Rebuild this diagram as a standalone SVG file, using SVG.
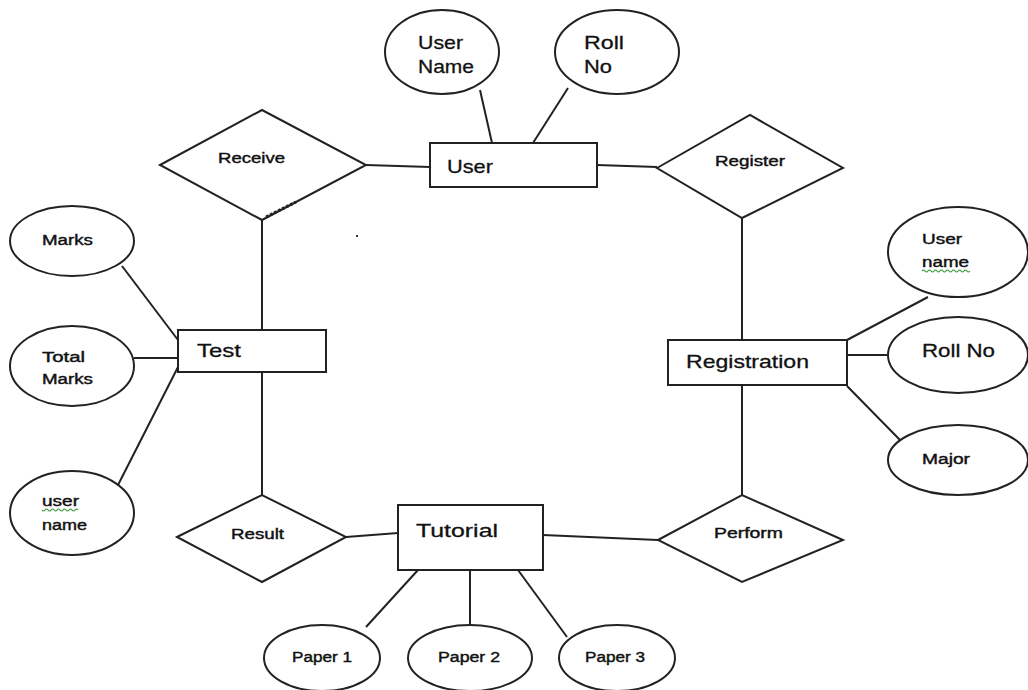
<svg xmlns="http://www.w3.org/2000/svg" width="1028" height="690" viewBox="0 0 1028 690">
<style>
.s{fill:#fff;stroke:#222;stroke-width:2}
.c line{stroke:#222;stroke-width:2}
.big{font-family:"Liberation Sans",Arial,sans-serif;font-size:19px;fill:#111;stroke:#111;stroke-width:0.3}
.sm{font-family:"Liberation Sans",Arial,sans-serif;font-size:14px;fill:#111;stroke:#111;stroke-width:0.4}
.sq{fill:none;stroke:#3a9a3a;stroke-width:1.2}
</style>
<rect width="1028" height="690" fill="#fff"/>
<g class="c" id="connectors">
<line x1="480" y1="90" x2="492" y2="143"/>
<line x1="568" y1="88" x2="533" y2="143"/>
<line x1="366" y1="165" x2="430" y2="167"/>
<line x1="597" y1="165" x2="657" y2="167"/>
<line x1="742" y1="215" x2="742" y2="340"/>
<line x1="262" y1="220" x2="262" y2="330"/>
<line x1="262" y1="372" x2="262" y2="495"/>
<line x1="122" y1="266" x2="178" y2="340"/>
<line x1="134" y1="358" x2="178" y2="358"/>
<line x1="117" y1="487" x2="178" y2="367"/>
<line x1="847" y1="340" x2="928" y2="297"/>
<line x1="847" y1="355" x2="888" y2="355"/>
<line x1="847" y1="386" x2="900" y2="440"/>
<line x1="742" y1="385" x2="742" y2="495"/>
<line x1="543" y1="535" x2="658" y2="540"/>
<line x1="346" y1="537" x2="398" y2="533"/>
<line x1="418" y1="570" x2="366" y2="627"/>
<line x1="470" y1="568" x2="470" y2="625"/>
<line x1="518" y1="570" x2="567" y2="637"/>
</g>
<rect x="356" y="235" width="2" height="2" fill="#333"/>
<g id="user-name"><ellipse class="s" cx="442" cy="52" rx="57" ry="42"/><text class="big" x="418" y="49" textLength="45" lengthAdjust="spacingAndGlyphs">User</text><text class="big" x="418" y="73" textLength="56" lengthAdjust="spacingAndGlyphs">Name</text></g>
<g id="roll-no-top"><ellipse class="s" cx="617" cy="52" rx="62" ry="42"/><text class="big" x="584" y="49" textLength="40" lengthAdjust="spacingAndGlyphs">Roll</text><text class="big" x="584" y="73" textLength="28" lengthAdjust="spacingAndGlyphs">No</text></g>
<g id="user"><rect class="s" x="430" y="143" width="167" height="44"/><text class="big" x="447" y="173" textLength="46" lengthAdjust="spacingAndGlyphs">User</text></g>
<g id="receive"><polygon class="s" points="160,165 262,110 366,165 262,220"/><path d="M266,217 L296,202" stroke="#222" stroke-width="3" stroke-dasharray="3,1.5" fill="none"/><text class="sm" x="218" y="163" textLength="67" lengthAdjust="spacingAndGlyphs">Receive</text></g>
<g id="register"><polygon class="s" points="657,168 750,115 843,168 742,218"/><text class="sm" x="715" y="166" textLength="70" lengthAdjust="spacingAndGlyphs">Register</text></g>
<g id="registration"><rect class="s" x="668" y="340" width="179" height="45"/><text class="big" x="686" y="368" textLength="123" lengthAdjust="spacingAndGlyphs">Registration</text></g>
<g id="user-name-r"><ellipse class="s" cx="958" cy="252" rx="70" ry="45"/><text class="sm" x="922" y="244" textLength="40" lengthAdjust="spacingAndGlyphs">User</text><text class="sm" x="922" y="267" textLength="47" lengthAdjust="spacingAndGlyphs">name</text><path class="sq" d="M922,271 q1.5,-2 3,0 t3,0 t3,0 t3,0 t3,0 t3,0 t3,0 t3,0 t3,0 t3,0 t3,0 t3,0 t3,0 t3,0 t3,0 t3,0"/></g>
<g id="roll-no-r"><ellipse class="s" cx="958" cy="355" rx="70" ry="38"/><text class="big" x="922" y="357" textLength="73" lengthAdjust="spacingAndGlyphs">Roll No</text></g>
<g id="major"><ellipse class="s" cx="958" cy="460" rx="70" ry="35"/><text class="sm" x="922" y="464" textLength="48" lengthAdjust="spacingAndGlyphs">Major</text></g>
<g id="perform"><polygon class="s" points="658,540 742,495 843,540 742,582"/><text class="sm" x="714" y="538" textLength="69" lengthAdjust="spacingAndGlyphs">Perform</text></g>
<g id="tutorial"><rect class="s" x="398" y="505" width="145" height="65"/><text class="big" x="416" y="537" textLength="82" lengthAdjust="spacingAndGlyphs">Tutorial</text></g>
<g id="result"><polygon class="s" points="177,537 262,495 346,537 262,582"/><text class="sm" x="231" y="539" textLength="53" lengthAdjust="spacingAndGlyphs">Result</text></g>
<g id="test"><rect class="s" x="178" y="330" width="148" height="42"/><text class="big" x="197" y="357" textLength="44" lengthAdjust="spacingAndGlyphs">Test</text></g>
<g id="marks"><ellipse class="s" cx="72" cy="241" rx="62" ry="35"/><text class="sm" x="42" y="245" textLength="51" lengthAdjust="spacingAndGlyphs">Marks</text></g>
<g id="total-marks"><ellipse class="s" cx="72" cy="366" rx="62" ry="40"/><text class="sm" x="42" y="362" textLength="43" lengthAdjust="spacingAndGlyphs">Total</text><text class="sm" x="42" y="384" textLength="51" lengthAdjust="spacingAndGlyphs">Marks</text></g>
<g id="user-name-l"><ellipse class="s" cx="72" cy="513" rx="62" ry="42"/><text class="sm" x="42" y="506" textLength="37" lengthAdjust="spacingAndGlyphs">user</text><path class="sq" d="M42,510 q1.5,2 3,0 t3,0 t3,0 t3,0 t3,0 t3,0 t3,0 t3,0 t3,0 t3,0 t3,0 t3,0"/><text class="sm" x="42" y="530" textLength="45" lengthAdjust="spacingAndGlyphs">name</text></g>
<g id="paper1"><ellipse class="s" cx="322" cy="658" rx="58" ry="33"/><text class="sm" x="292" y="662" textLength="60" lengthAdjust="spacingAndGlyphs">Paper 1</text></g>
<g id="paper2"><ellipse class="s" cx="470" cy="658" rx="62" ry="33"/><text class="sm" x="438" y="662" textLength="62" lengthAdjust="spacingAndGlyphs">Paper 2</text></g>
<g id="paper3"><ellipse class="s" cx="617" cy="658" rx="58" ry="33"/><text class="sm" x="585" y="662" textLength="60" lengthAdjust="spacingAndGlyphs">Paper 3</text></g>
</svg>
